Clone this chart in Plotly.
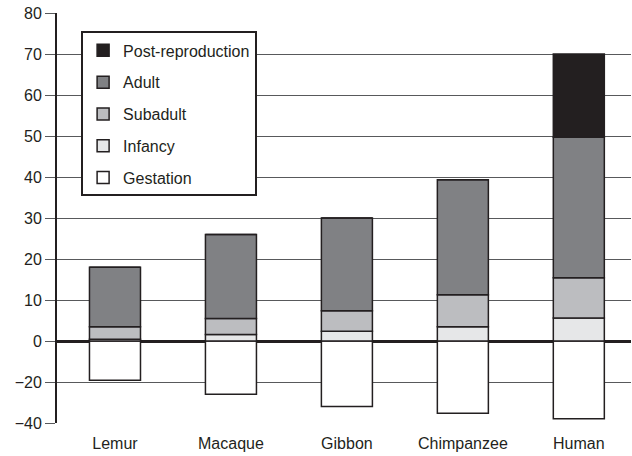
import plotly.graph_objects as go

species = ["Lemur", "Macaque", "Gibbon", "Chimpanzee", "Human"]
# durations (years) of positive stacked phases
infancy = [0.4, 1.6, 2.4, 3.5, 5.6]
subadult = [3.1, 3.9, 5.0, 7.8, 9.8]
adult = [14.5, 20.5, 22.6, 28.0, 34.3]
post_reproduction = [0.0, 0.0, 0.0, 0.0, 20.3]
# gestation, in the units of the lower (negative) axis labels
gestation = [-19.2, -26.0, -32.0, -35.2, -37.9]

y_ticks_pos = [80, 70, 60, 50, 40, 30, 20, 10, 0]
y_ticks_neg = [-20, -40]
NEG_SCALE = 0.5  # lower part of the axis is drawn at half scale

outline = dict(color="#231f20", width=1.5)
series = [
    ("Gestation", [g * NEG_SCALE for g in gestation], "#ffffff", 5),
    ("Infancy", infancy, "#e6e7e8", 4),
    ("Subadult", subadult, "#bcbdc0", 3),
    ("Adult", adult, "#808184", 2),
    ("Post-reproduction", post_reproduction, "#231f20", 1),
]

fig = go.Figure()
for name, vals, col, rank in series:
    fig.add_trace(go.Bar(
        x=species, y=vals, name=name, legendgroup=name, legendrank=rank,
        marker=dict(color=col, line=outline),
    ))

tickvals = y_ticks_pos + [t * NEG_SCALE for t in y_ticks_neg]
ticktext = [str(t) for t in y_ticks_pos] + ["\u2212" + str(-t) for t in y_ticks_neg]

fig.update_layout(
    width=632, height=456,
    margin=dict(l=57, r=1, t=13, b=33),
    barmode="relative", bargap=0.56,
    plot_bgcolor="white", paper_bgcolor="white",
    font=dict(family="Liberation Sans, Arial, sans-serif", size=16, color="#231f20"),
    showlegend=True,
    legend=dict(
        x=0.042, y=0.955, xanchor="left", yanchor="top",
        bordercolor="#231f20", borderwidth=2, bgcolor="white",
        traceorder="grouped", tracegroupgap=8,
        font=dict(size=16),
    ),
    xaxis=dict(range=[-0.5, 4.45], showline=False, showgrid=False,
               ticks="outside", ticklen=6, tickcolor="rgba(0,0,0,0)",
               tickfont=dict(size=16)),
    yaxis=dict(range=[-20, 80], tickvals=tickvals, ticktext=ticktext,
               showgrid=True, gridcolor="#58595b", gridwidth=1,
               zeroline=True, zerolinecolor="#231f20", zerolinewidth=2.5,
               showline=True, linecolor="#231f20", linewidth=2,
               ticks="outside", ticklen=10, tickcolor="#58595b",
               tickfont=dict(size=16)),
)

fig.write_html("out.html", config={"displayModeBar": False},
               post_script="document.body.style.margin='0';")
